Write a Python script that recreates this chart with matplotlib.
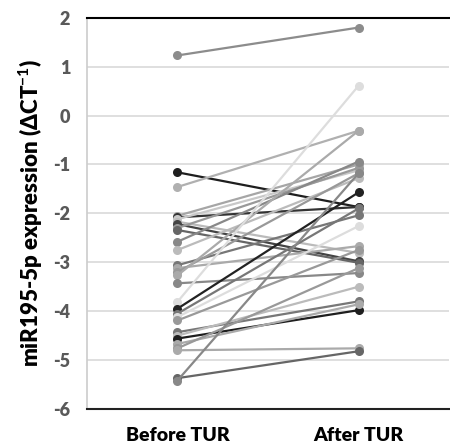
import matplotlib.pyplot as plt

plt.rcParams['font.family'] = ['Lato', 'DejaVu Sans']
plt.rcParams['mathtext.fontset'] = 'custom'
plt.rcParams['mathtext.bf'] = 'Lato:bold'

# paired values: before TUR -> after TUR, one line per patient
before = [1.23, -1.16, -1.46, -2.05, -2.08, -2.12, -2.17, -2.22, -2.30, -2.34,
          -2.58, -2.75, -3.06, -3.12, -3.20, -3.27, -3.43, -3.81, -3.95, -4.05,
          -4.12, -4.19, -4.43, -4.50, -4.56, -4.67, -4.76, -4.80, -5.37, -5.42]
after = [1.80, -1.87, -0.31, -1.00, -1.87, -1.12, -2.81, -2.98, -1.07, -3.01,
         -0.94, -1.28, -2.04, -2.67, -1.18, -0.31, -3.22, 0.61, -1.57, -1.90,
         -2.26, -2.75, -3.80, -3.50, -3.98, -3.86, -3.12, -4.76, -4.82, -1.18]
grays = ['#8c8c8c', '#1e1e1e', '#b0b0b0', '#a6a6a6', '#333333', '#c8c8c8',
         '#bbbbbb', '#444444', '#999999', '#666666', '#888888', '#bbbbbb',
         '#777777', '#aaaaaa', '#999999', '#aaaaaa', '#888888', '#dddddd',
         '#222222', '#777777', '#dddddd', '#999999', '#777777', '#bbbbbb',
         '#1e1e1e', '#aaaaaa', '#999999', '#aaaaaa', '#666666', '#888888']
groups = ['Before TUR', 'After TUR']
yticks = [2, 1, 0, -1, -2, -3, -4, -5, -6]

fig = plt.figure(figsize=(4.5, 4.45), dpi=100)
ax = fig.add_axes([0.193, 0.081, 0.805, 0.879])

for b, a, c in zip(before, after, grays):
    ax.plot([0, 1], [b, a], color=c, linewidth=1.6, marker='o',
            markersize=6.5, markeredgewidth=0, solid_capstyle='round')

ax.set_xlim(-0.5, 1.5)
ax.set_ylim(-6, 2)
ax.set_yticks(yticks)
ax.set_yticklabels([str(t) for t in yticks], fontsize=13, fontweight='heavy',
                   color='#595959')
ax.set_xticks([0, 1])
ax.set_xticklabels(groups, fontsize=14, fontweight='heavy', color='black')
ax.tick_params(axis='both', length=0)
ax.tick_params(axis='y', pad=12)
ax.tick_params(axis='x', pad=13)

ax.grid(True, axis='y', color='#d9d9d9', linewidth=1.2)
ax.set_axisbelow(True)
ax.spines['right'].set_visible(False)
ax.spines['left'].set_color('#cccccc')
ax.spines['left'].set_linewidth(1.2)
ax.spines['top'].set_color('black')
ax.spines['top'].set_linewidth(1.5)
ax.spines['bottom'].set_color('#222222')
ax.spines['bottom'].set_linewidth(1.5)

ax.set_ylabel('miR195-5p expression (ΔCT$^{\\mathbf{-1}}$)', fontsize=16,
              fontweight='heavy', labelpad=6)

plt.savefig('out.png', dpi=100)
